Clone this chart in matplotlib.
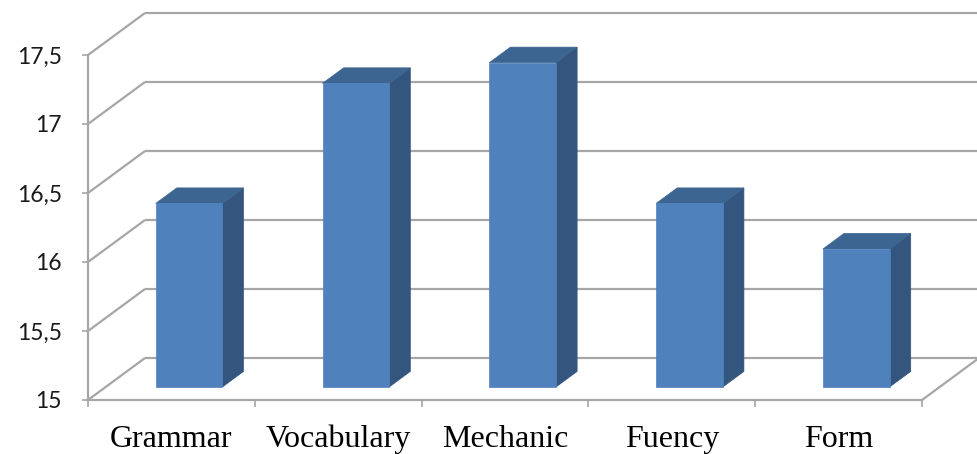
import matplotlib
matplotlib.use("Agg")
import matplotlib.pyplot as plt
from matplotlib.patches import Polygon

categories = ["Grammar", "Vocabulary", "Mechanic", "Fuency", "Form"]
values = [16.33, 17.2, 17.35, 16.33, 16.0]
y_ticks = [15, 15.5, 16, 16.5, 17, 17.5]
y_tick_labels = ["15", "15,5", "16", "16,5", "17", "17,5"]

W, H = 977, 454
fig = plt.figure(figsize=(W / 100, H / 100), dpi=100)
x0, x1 = 88, 922
y0, y1 = 400, 55
ax = fig.add_axes([x0 / W, (H - y0) / H, (x1 - x0) / W, (y0 - y1) / H])
ax.set_xlim(-0.5, len(categories) - 0.5)
ax.set_ylim(y_ticks[0], y_ticks[-1])
ax.patch.set_alpha(0)

# depth of the 3D box (in data units)
px_x = (x1 - x0) / len(categories)
px_y = (y0 - y1) / (y_ticks[-1] - y_ticks[0])
Dx = 57 / px_x
Dy = 42 / px_y

grid_c = "#a6a6a6"
lw = 1.6
xl, xr = -0.5, len(categories) - 0.5
base = y_ticks[0]
for t in y_ticks:
    ax.plot([xl, xl + Dx], [t, t + Dy], color=grid_c, lw=lw, clip_on=False, zorder=1,
            solid_capstyle="butt")
    ax.plot([xl + Dx, xr + Dx], [t + Dy, t + Dy], color=grid_c, lw=lw, clip_on=False,
            zorder=1, solid_capstyle="butt")
ax.plot([xr, xr + Dx], [base, base + Dy], color=grid_c, lw=lw, clip_on=False, zorder=1)

# bars
f0, f1 = 0.31, 0.68
hw = 0.2
front_c, side_c, top_c = "#4F81BD", "#34557E", "#3D6592"
for i, v in enumerate(values):
    xa = i - hw + f0 * Dx
    xb = i + hw + f0 * Dx
    ya = base + f0 * Dy
    yt = v + f0 * Dy
    ddx = (f1 - f0) * Dx
    ddy = (f1 - f0) * Dy
    front = Polygon([(xa, ya), (xb, ya), (xb, yt), (xa, yt)], closed=True,
                    facecolor=front_c, edgecolor=front_c, lw=0.5, zorder=3, clip_on=False)
    side = Polygon([(xb, ya), (xb + ddx, ya + ddy), (xb + ddx, yt + ddy), (xb, yt)],
                   closed=True, facecolor=side_c, edgecolor=side_c, lw=0.5, zorder=3,
                   clip_on=False)
    top = Polygon([(xa, yt), (xb, yt), (xb + ddx, yt + ddy), (xa + ddx, yt + ddy)],
                  closed=True, facecolor=top_c, edgecolor=top_c, lw=0.5, zorder=3,
                  clip_on=False)
    for p in (side, top, front):
        ax.add_patch(p)

for s in ("top", "right"):
    ax.spines[s].set_visible(False)
for s in ("left", "bottom"):
    ax.spines[s].set_color(grid_c)
    ax.spines[s].set_linewidth(lw)
    ax.spines[s].set_zorder(2)

ax.set_yticks(y_ticks, labels=y_tick_labels)
ax.tick_params(axis="y", direction="out", length=4.3, width=1.2, color=grid_c,
               pad=14.5, labelsize=16.5, labelcolor="#1a1a1a")
for lab in ax.get_yticklabels():
    lab.set_fontfamily("Lato")

ax.set_xticks([i - 0.5 for i in range(len(categories) + 1)], labels=[""] * (len(categories) + 1))
ax.tick_params(axis="x", which="major", direction="out", length=5, width=1.2, color=grid_c)
ax.set_xticks(range(len(categories)), labels=categories, minor=True)
ax.tick_params(axis="x", which="minor", length=0, pad=18, labelsize=23, labelcolor="black")
for lab in ax.get_xticklabels(minor=True):
    lab.set_fontfamily("Liberation Serif")

fig.savefig("out.png", dpi=100, facecolor="white")
